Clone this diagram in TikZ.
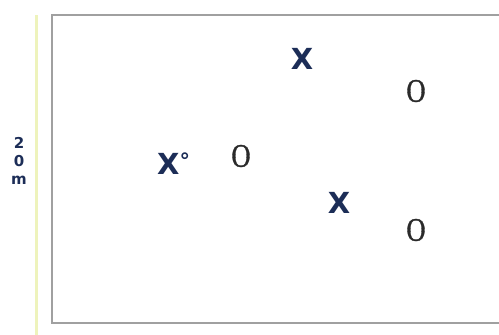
\documentclass[tikz,border=0pt]{standalone}
\usepackage{fontspec}
\newfontfamily\xfont{DejaVu Sans}
\newfontfamily\ofont{Liberation Serif}[FakeBold=1.2]
\definecolor{navy}{HTML}{1C2D57}
\definecolor{ogray}{HTML}{2A2A2A}
\definecolor{framegray}{HTML}{A0A0A0}
\definecolor{ruleyellow}{HTML}{EEF3BC}
\tikzset{
  xmark/.style={inner sep=0pt, text=navy, font=\xfont\bfseries\fontsize{29}{29}\selectfont},
  omark/.style={inner sep=0pt, text=ogray, xscale=0.8, font=\ofont\fontsize{33}{33}\selectfont},
  scalelabel/.style={inner sep=0pt, text=navy, align=center, font=\xfont\bfseries\fontsize{15}{18}\selectfont}
}
\begin{document}
\begin{tikzpicture}[x=1pt,y=-1pt]
\useasboundingbox (0,0) rectangle (499,335);
\fill[white] (0,0) rectangle (499,335);
\draw[ruleyellow, line width=3pt] (36,15) -- (36,335);
\draw[framegray, line width=2pt] (505,15) -- (52,15) -- (52,323) -- (505,323);
\node[scalelabel] (lab) at (19,161) {2\\0\\m};
\node[xmark] (x1) at (302,59) {X};
\node[xmark] (x2) at (339,203) {X};
\node[xmark, anchor=west] (x3) at (157,164) {X\raisebox{6pt}{\fontsize{21}{21}\selectfont°}};
\node[omark] (o1) at (416,91) {O};
\node[omark] (o2) at (241,156) {O};
\node[omark] (o3) at (416,230) {O};
\end{tikzpicture}
\end{document}
